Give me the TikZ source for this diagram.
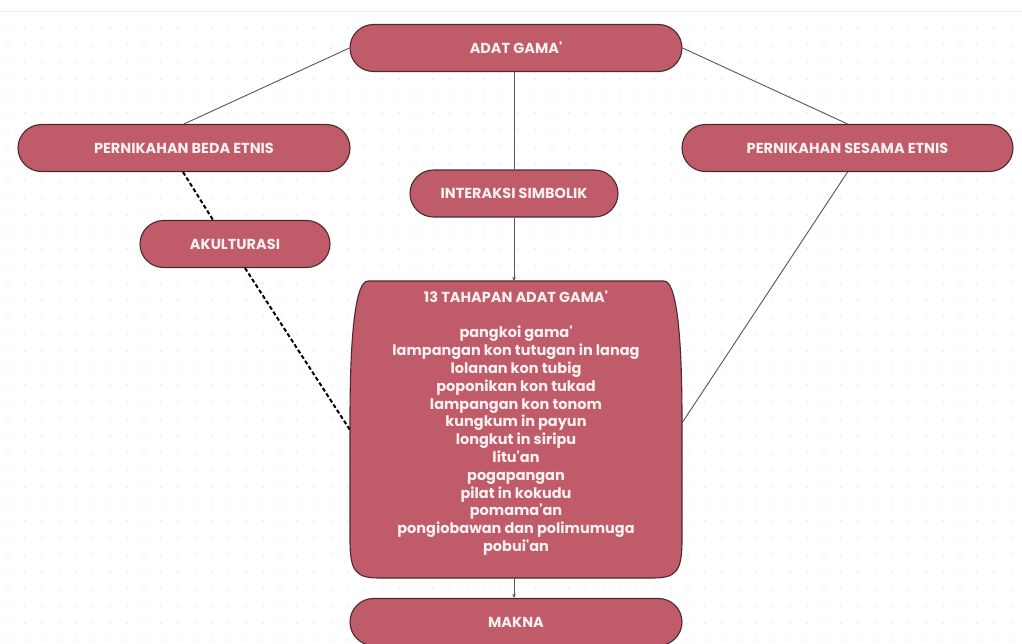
\documentclass[tikz,border=0pt]{standalone}
\usepackage{fontspec}
\setmainfont{Poppins}[BoldFont={Poppins Bold}, Ligatures=TeXOff]
\usetikzlibrary{arrows.meta}
\definecolor{boxfill}{HTML}{C05C6A}
\definecolor{boxline}{HTML}{4A2A2E}
\definecolor{boxtext}{HTML}{FAF0F1}
\definecolor{dotc}{HTML}{E6E6E6}
\definecolor{linec}{HTML}{555555}
\tikzset{
  pill/.style={draw=boxline, line width=1.1pt, fill=boxfill, rounded corners=23.5pt,
    minimum height=47pt, text=boxtext, font=\bfseries\fontsize{14.5}{16}\selectfont, inner sep=0pt},
  conn/.style={draw=linec, line width=0.9pt},
  dconn/.style={draw=black, line width=2pt, dash pattern=on 4pt off 2.5pt},
  tip/.style={-{Stealth[length=4pt,width=3.5pt]}}
}
\begin{document}
\begin{tikzpicture}[x=1pt,y=-1pt]
\useasboundingbox (0,0) rectangle (1022,643);
\fill[white] (0,0) rectangle (1022,643);
\draw[dotc!70, line width=0.8pt] (0,11) -- (1022,11);
\foreach \i in {0,...,60}{
  \foreach \j in {0,...,36}{
    \fill[dotc] (8+\i*17, 28+\j*17) circle (0.9);
  }
}
% big box shape
\draw[draw=boxline, line width=1.1pt, fill=boxfill]
  (368,281) -- (664,281) .. controls (676,281) and (682,330) .. (682,420)
  -- (682,540) .. controls (682,572) and (676,578) .. (652,578)
  -- (380,578) .. controls (356,578) and (350,572) .. (350,540)
  -- (350,420) .. controls (350,330) and (356,281) .. (368,281) -- cycle;

\node[pill, minimum width=332pt] (adat) at (516,48) {ADAT GAMA'};
\node[pill, minimum width=332pt] (beda) at (184,148) {PERNIKAHAN BEDA ETNIS};
\node[pill, minimum width=331pt] (sesama) at (847.5,148) {PERNIKAHAN SESAMA ETNIS};
\node[pill, minimum width=208pt] (inter) at (514,193.5) {INTERAKSI SIMBOLIK};
\node[pill, minimum width=190pt] (akul) at (235,244) {AKULTURASI};
\node[pill, minimum width=332pt] (makna) at (516,622) {MAKNA};
\node[minimum width=332pt, minimum height=297pt, inner sep=0pt, anchor=north] (tah) at (516,281) {};
\node[inner sep=0pt, text=boxtext, font=\bfseries\fontsize{14.5}{17.8}\selectfont, align=center]
  (tahtxt) at (516,423)
  {13 TAHAPAN ADAT GAMA'\\[17.8pt]
   pangkoi gama'\\ lampangan kon tutugan in lanag\\ lolanan kon tubig\\
   poponikan kon tukad\\ lampangan kon tonom\\ kungkum in payun\\
   longkut in siripu\\ litu'an\\ pogapangan\\ pilat in kokudu\\
   pomama'an\\ pongiobawan dan polimumuga\\ pobui'an};

\draw[conn] (adat.west) -- (beda.north);
\draw[conn] (adat.east) -- (sesama.north);
\draw[conn] (adat.south -| inter.north) -- (inter.north);
\draw[conn, tip] (inter.south) -- (inter.south |- tah.north);
\draw[conn, tip] (tah.south -| inter.south) -- (makna.north -| inter.south);
\draw[dconn] ([xshift=-1pt]beda.south) -- ([xshift=-22pt]akul.north);
\draw[dconn] ([xshift=10pt]akul.south) -- (tah.west);
\draw[conn] (sesama.south) -- ([yshift=7pt]tah.east);
\end{tikzpicture}
\end{document}
